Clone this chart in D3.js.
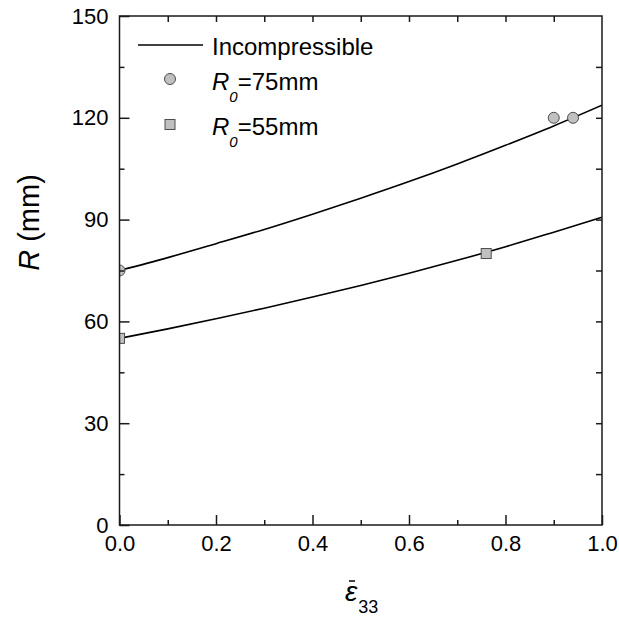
<!DOCTYPE html>
<html>
<head>
<meta charset="utf-8">
<script src="https://cdn.jsdelivr.net/npm/d3@7"></script>
<style>
  html, body { margin: 0; padding: 0; background: #fff; }
  svg { display: block; font-family: Arial, "Liberation Sans", sans-serif; }
</style>
</head>
<body>
<svg id="chart" width="619" height="619"></svg>
<script>
// ---- data ----
const strainValues = [0.0, 0.1, 0.2, 0.3, 0.4, 0.5, 0.6, 0.7, 0.8, 0.9, 1.0];
const incompressible75 = [75.0, 78.8, 82.9, 87.1, 91.6, 96.3, 101.2, 106.4, 111.9, 117.6, 123.7];
const incompressible55 = [55.0, 57.8, 60.8, 63.9, 67.2, 70.6, 74.2, 78.0, 82.0, 86.3, 90.7];
const r75Strain = [0.0, 0.90, 0.94];
const r75Radius = [75, 120, 120];
const r55Strain = [0.0, 0.76];
const r55Radius = [55, 80];
const xTickValues = [0.0, 0.2, 0.4, 0.6, 0.8, 1.0];
const yTickValues = [0, 30, 60, 90, 120, 150];
const legendLabels = ["Incompressible", "=75mm", "=55mm"];

// ---- layout ----
const svg = d3.select("#chart");
const pL = 119.5, pR = 602, pT = 16, pB = 525;
const x = d3.scaleLinear().domain([0, 1]).range([pL, pR]);
const y = d3.scaleLinear().domain([0, 150]).range([pB, pT]);
const axisColor = "#1a1a1a";
const markerFill = "#c0c0c0";
const markerStroke = "#4d4d4d";

svg.append("defs").append("clipPath").attr("id", "plotClip")
  .append("rect").attr("x", pL).attr("y", pT)
  .attr("width", pR - pL).attr("height", pB - pT);

const plot = svg.append("g").attr("clip-path", "url(#plotClip)");

// curves
const line = d3.line().x(d => x(d[0])).y(d => y(d[1])).curve(d3.curveMonotoneX);
[incompressible75, incompressible55].forEach(series => {
  plot.append("path")
    .datum(strainValues.map((s, i) => [s, series[i]]))
    .attr("d", line)
    .attr("fill", "none")
    .attr("stroke", "#000")
    .attr("stroke-width", 1.6);
});

// circles
plot.selectAll("circle.r75")
  .data(r75Strain.map((s, i) => [s, r75Radius[i]]))
  .join("circle")
  .attr("class", "r75")
  .attr("cx", d => x(d[0])).attr("cy", d => y(d[1]))
  .attr("r", 5.5)
  .attr("fill", markerFill).attr("stroke", markerStroke).attr("stroke-width", 1);

// squares
const sq = 10;
plot.selectAll("rect.r55")
  .data(r55Strain.map((s, i) => [s, r55Radius[i]]))
  .join("rect")
  .attr("class", "r55")
  .attr("x", d => x(d[0]) - sq / 2).attr("y", d => y(d[1]) - sq / 2)
  .attr("width", sq).attr("height", sq)
  .attr("fill", markerFill).attr("stroke", markerStroke).attr("stroke-width", 1);

// ---- axes ----
function styleAxis(g) {
  g.select(".domain").remove();
  g.selectAll("line").attr("stroke", axisColor).attr("stroke-width", 1.5);
  g.selectAll("text").attr("fill", "#000").attr("font-size", 22)
    .attr("font-family", "Arial, 'Liberation Sans', sans-serif");
}
// bottom major
svg.append("g").attr("transform", `translate(0,${pB})`)
  .call(d3.axisBottom(x).tickValues(xTickValues).tickFormat(d3.format(".1f"))
    .tickSizeInner(-10).tickSizeOuter(0).tickPadding(10))
  .call(styleAxis);
// bottom minor
svg.append("g").attr("transform", `translate(0,${pB})`)
  .call(d3.axisBottom(x).tickValues(d3.range(0.1, 1, 0.2)).tickFormat("")
    .tickSizeInner(-5).tickSizeOuter(0))
  .call(styleAxis);
// left major
svg.append("g").attr("transform", `translate(${pL},0)`)
  .call(d3.axisLeft(y).tickValues(yTickValues).tickFormat(d3.format("d"))
    .tickSizeInner(-10).tickSizeOuter(0).tickPadding(11))
  .call(styleAxis);
// left minor
svg.append("g").attr("transform", `translate(${pL},0)`)
  .call(d3.axisLeft(y).tickValues(d3.range(15, 150, 30)).tickFormat("")
    .tickSizeInner(-5).tickSizeOuter(0))
  .call(styleAxis);
// top
svg.append("g").attr("transform", `translate(0,${pT})`)
  .call(d3.axisTop(x).tickValues(d3.range(0.1, 0.95, 0.1)).tickFormat("")
    .tickSizeInner(-6).tickSizeOuter(0))
  .call(styleAxis);
// right
svg.append("g").attr("transform", `translate(${pR},0)`)
  .call(d3.axisRight(y).tickValues(d3.range(15, 150, 15)).tickFormat("")
    .tickSizeInner(-6).tickSizeOuter(0))
  .call(styleAxis);

// frame
svg.append("rect")
  .attr("x", pL).attr("y", pT)
  .attr("width", pR - pL).attr("height", pB - pT)
  .attr("fill", "none").attr("stroke", axisColor).attr("stroke-width", 1.5);

// ---- axis titles ----
const yTitle = svg.append("text")
  .attr("transform", `translate(39,${(pT + pB) / 2 - 48}) rotate(-90)`)
  .attr("text-anchor", "middle")
  .attr("font-size", 29);
yTitle.append("tspan").attr("font-style", "italic").text("R");
yTitle.append("tspan").text(" (mm)");

const xTitle = svg.append("text")
  .attr("x", 345).attr("y", 601)
  .attr("font-size", 28);
xTitle.append("tspan").attr("font-style", "italic").text("ε");
xTitle.append("tspan").attr("font-size", 18).attr("dy", 12).attr("dx", 1).text("33");
svg.append("line")
  .attr("x1", 349).attr("x2", 355).attr("y1", 581).attr("y2", 581)
  .attr("stroke", "#000").attr("stroke-width", 1.5);

// ---- legend ----
const lg = svg.append("g");
lg.append("line").attr("x1", 138).attr("x2", 203).attr("y1", 45).attr("y2", 45)
  .attr("stroke", "#000").attr("stroke-width", 1.6);
lg.append("text").attr("x", 212).attr("y", 55).attr("font-size", 24).text(legendLabels[0]);

lg.append("circle").attr("cx", 170).attr("cy", 79).attr("r", 5.5)
  .attr("fill", markerFill).attr("stroke", markerStroke).attr("stroke-width", 1);
lg.append("rect").attr("x", 165).attr("y", 119.5).attr("width", sq).attr("height", sq)
  .attr("fill", markerFill).attr("stroke", markerStroke).attr("stroke-width", 1);

[[90, legendLabels[1]], [135, legendLabels[2]]].forEach(([by, label]) => {
  const t = lg.append("text").attr("x", 212).attr("y", by).attr("font-size", 24);
  t.append("tspan").attr("font-style", "italic").text("R");
  t.append("tspan").attr("font-style", "italic").attr("font-size", 15)
    .attr("dx", 0).attr("dy", 12).text("0");
  t.append("tspan").attr("dx", 0).attr("dy", -12).text(label);
});
</script>
</body>
</html>
